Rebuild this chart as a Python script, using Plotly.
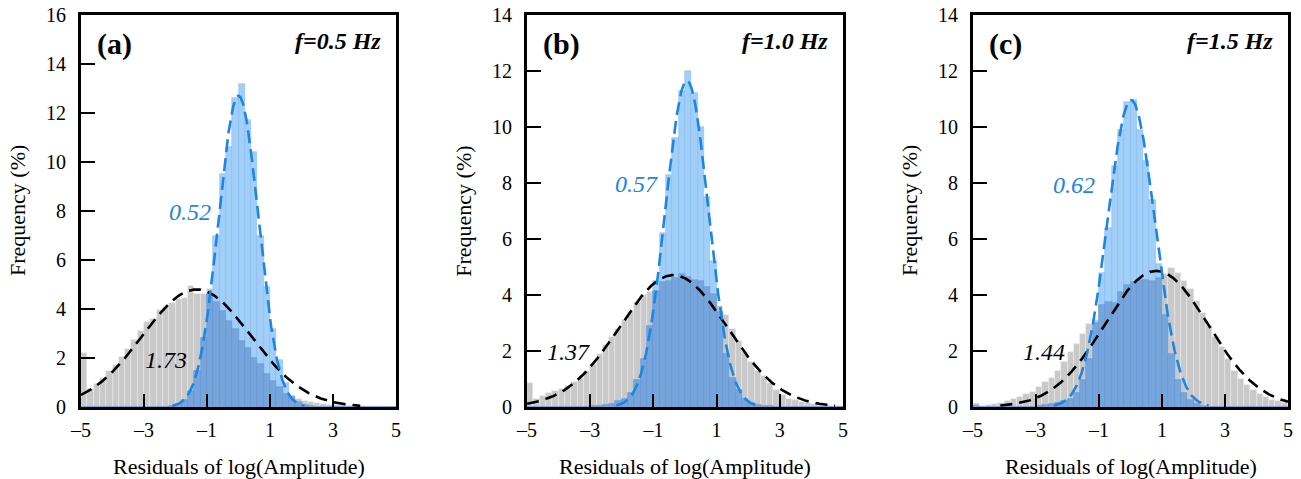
import numpy as np
import plotly.graph_objects as go

# ---------------- data ----------------
# histogram bins: width 0.2 between -5 and 5 (values are bin centres)
bin_width = 0.2
bin_centers = [round(-4.9 + 0.2 * i, 1) for i in range(50)]

# frequency (%) per bin, all data (grey) and corrected data (blue)
gray_a = [2.2, 0.75, 0.95, 1.2, 1.45, 1.7, 2.05, 2.35, 2.75, 3.1,
          3.45, 3.6, 3.95, 4.1, 4.25, 4.4, 4.45, 4.95, 4.6, 4.6,
          4.8, 4.3, 3.9, 3.5, 3.2, 2.7, 2.4, 2.0, 1.75, 1.35,
          1.05, 0.8, 0.55, 0.42, 0.32, 0.25, 0.2, 0.16, 0.13, 0.1,
          0.08, 0.07, 0.05, 0.04, 0.03, 0.02, 0.01, 0.0, 0.0, 0.0]
blue_a = [0, 0, 0, 0, 0, 0, 0, 0, 0, 0,
          0, 0, 0, 0, 0.05, 0.12, 0.3, 0.65, 1.45, 2.8,
          4.6, 7.0, 9.5, 10.6, 12.6, 13.2, 11.7, 10.4, 7.0, 4.9,
          3.2, 1.9, 1.0, 0.45, 0.2, 0.08, 0.03, 0, 0, 0,
          0, 0, 0, 0, 0, 0, 0, 0, 0, 0]

gray_b = [0.85, 0.3, 0.38, 0.5, 0.58, 0.65, 0.75, 0.9, 1.05, 1.3,
          1.55, 1.9, 2.2, 2.5, 2.8, 3.1, 3.4, 3.75, 4.0, 4.1,
          4.15, 4.45, 4.5, 4.6, 4.75, 4.65, 4.55, 4.5, 4.3, 4.05,
          3.6, 3.3, 2.8, 2.35, 1.95, 1.6, 1.3, 1.1, 0.85, 0.6,
          0.42, 0.3, 0.24, 0.18, 0.14, 0.1, 0.08, 0.06, 0.04, 0.03]
blue_b = [0, 0, 0, 0, 0, 0, 0, 0, 0, 0,
          0.02, 0.04, 0.07, 0.12, 0.2, 0.3, 0.5, 0.95, 1.7, 2.9,
          4.5, 6.2, 8.3, 9.6, 11.3, 12.0, 11.2, 10.0, 7.5, 5.2,
          3.4, 1.9, 1.05, 0.6, 0.3, 0.15, 0.08, 0.04, 0.02, 0,
          0, 0, 0, 0, 0, 0, 0, 0, 0, 0]

gray_c = [0.03, 0.05, 0.08, 0.12, 0.15, 0.2, 0.28, 0.35, 0.45, 0.55,
          0.7, 0.9, 1.05, 1.3, 1.6, 1.95, 2.25, 2.6, 2.95, 3.1,
          3.65, 3.75, 3.7, 4.1, 4.35, 4.45, 4.55, 4.55, 4.5, 4.6,
          4.75, 4.95, 4.78, 4.5, 4.2, 3.8, 3.35, 2.9, 2.5, 2.15,
          1.7, 1.3, 1.0, 0.78, 0.6, 0.47, 0.36, 0.26, 0.2, 0.15]
blue_c = [0.1, 0, 0, 0, 0, 0, 0, 0, 0, 0,
          0.05, 0.07, 0.1, 0.15, 0.2, 0.3, 0.5, 0.95, 1.7, 3.0,
          4.8, 6.4, 8.6, 9.9, 10.9, 10.95, 9.9, 8.8, 7.4, 5.1,
          3.3, 1.9, 0.95, 0.5, 0.25, 0.12, 0.05, 0, 0, 0,
          0, 0, 0, 0, 0, 0, 0, 0, 0, 0]

# fitted normal curves: [peak (%), mean, standard deviation]
fit_gray = {"a": [4.8, -1.33, 1.72], "b": [4.71, -0.37, 1.70], "c": [4.86, 0.82, 1.64]}
fit_blue = {"a": [12.7, 0.0, 0.63], "b": [11.65, 0.06, 0.68], "c": [10.96, 0.02, 0.75]}

# labels
panel_tags = ["(a)", "(b)", "(c)"]
freq_labels = ["f=0.5 Hz", "f=1.0 Hz", "f=1.5 Hz"]
sigma_blue = ["0.52", "0.57", "0.62"]
sigma_gray = ["1.73", "1.37", "1.44"]
blue_label_pos = [(-1.54, 7.96), (-1.52, 7.98), (-1.79, 7.93)]
gray_label_pos = [(-2.3, 1.92), (-3.70, 1.98), (-2.76, 1.98)]
y_max = [16, 14, 14]
x_tick_vals = [-5, -3, -1, 1, 3, 5]
x_tick_text = ["\u20135", "\u20133", "\u20131", "1", "3", "5"]

gray_data = [gray_a, gray_b, gray_c]
blue_data = [blue_a, blue_b, blue_c]
keys = ["a", "b", "c"]

# ---------------- style ----------------
W, H = 1301, 479
FONT = "Liberation Serif"
GRAY = "#c9c9c9"
BLUE_LIGHT = "#a2cff8"
BLUE_DARK = "#76a5db"
BLUE_LINE = "#1d85e4"

x_px = [(81, 396), (527, 843), (973, 1288)]
y_px = (15, 407)
y_dom = [1 - y_px[1] / H, 1 - y_px[0] / H]

fig = go.Figure()
xs = np.linspace(-5, 5, 600)


def normal_curve(params):
    peak, mu, sd = params
    y = peak * np.exp(-((xs - mu) ** 2) / (2 * sd ** 2))
    return [v if v > 0.05 else None for v in y]


annotations = []
for k in range(3):
    xa = "x" if k == 0 else f"x{k + 1}"
    ya = "y" if k == 0 else f"y{k + 1}"
    g = np.array(gray_data[k], dtype=float)
    b = np.array(blue_data[k], dtype=float)
    overlap = np.minimum(g, b)

    fig.add_trace(go.Bar(x=bin_centers, y=g, width=bin_width, xaxis=xa, yaxis=ya,
                         marker=dict(color=GRAY, line=dict(color="rgba(235,235,235,0.9)", width=0.6)),
                         showlegend=False, hoverinfo="skip"))
    fig.add_trace(go.Bar(x=bin_centers, y=b, width=bin_width, xaxis=xa, yaxis=ya,
                         marker=dict(color=BLUE_LIGHT, line=dict(color="rgba(120,180,240,0.8)", width=0.6)),
                         showlegend=False, hoverinfo="skip"))
    fig.add_trace(go.Bar(x=bin_centers, y=overlap, width=bin_width, xaxis=xa, yaxis=ya,
                         marker=dict(color=BLUE_DARK, line=dict(color="rgba(95,145,210,0.8)", width=0.6)),
                         showlegend=False, hoverinfo="skip"))
    fig.add_trace(go.Scatter(x=xs, y=normal_curve(fit_gray[keys[k]]), xaxis=xa, yaxis=ya,
                             mode="lines", line=dict(color="black", width=2.6, dash="12px,7px"),
                             showlegend=False, hoverinfo="skip"))
    fig.add_trace(go.Scatter(x=xs, y=normal_curve(fit_blue[keys[k]]), xaxis=xa, yaxis=ya,
                             mode="lines", line=dict(color=BLUE_LINE, width=2.6, dash="13px,6px"),
                             showlegend=False, hoverinfo="skip"))

    x_dom = [x_px[k][0] / W, x_px[k][1] / W]
    axis_common = dict(showline=True, linecolor="black", linewidth=3, mirror=True,
                       ticks="inside", tickcolor="black", tickwidth=2,
                       showgrid=False, zeroline=False,
                       tickfont=dict(family=FONT, size=20, color="black"))
    fig.update_layout(**{
        ("xaxis" if k == 0 else f"xaxis{k + 1}"): dict(
            domain=x_dom, anchor=ya, range=[-5, 5], tickvals=x_tick_vals, ticktext=x_tick_text,
            ticklen=13, ticklabelstandoff=3, **axis_common),
        ("yaxis" if k == 0 else f"yaxis{k + 1}"): dict(
            domain=y_dom, anchor=xa, range=[0, y_max[k]], dtick=2, tick0=0,
            ticklen=14, ticklabelstandoff=8, **axis_common),
    })

    xd = f"{xa} domain"
    yd = f"{ya} domain"
    annotations += [
        dict(text=f"<b>{panel_tags[k]}</b>", xref=xd, yref=yd, x=0.044, y=0.926,
             xanchor="left", yanchor="middle", showarrow=False,
             font=dict(family=FONT, size=30, color="black")),
        dict(text=f"<b><i>{freq_labels[k]}</i></b>", xref=xd, yref=yd, x=0.96, y=0.934,
             xanchor="right", yanchor="middle", showarrow=False,
             font=dict(family=FONT, size=24, color="black")),
        dict(text=f"<i>{sigma_blue[k]}</i>", xref=xa, yref=ya,
             x=blue_label_pos[k][0], y=blue_label_pos[k][1], showarrow=False,
             font=dict(family=FONT, size=24, color=BLUE_LINE)),
        dict(text=f"<i>{sigma_gray[k]}</i>", xref=xa, yref=ya,
             x=gray_label_pos[k][0], y=gray_label_pos[k][1], showarrow=False,
             font=dict(family=FONT, size=24, color="black")),
        dict(text="Residuals of log(Amplitude)", xref=xd, yref="paper", x=0.5, y=1 - 466 / H,
             xanchor="center", yanchor="middle", showarrow=False,
             font=dict(family=FONT, size=22, color="black")),
        dict(text="Frequency (%)", xref=xd, yref=yd, x=-64 / 315, y=0.5, textangle=-90,
             xanchor="center", yanchor="middle", showarrow=False,
             font=dict(family=FONT, size=22, color="black")),
    ]

fig.update_layout(
    width=W, height=H, template="none",
    font=dict(family=FONT, color="black"),
    margin=dict(l=0, r=0, t=0, b=0),
    paper_bgcolor="white", plot_bgcolor="white",
    barmode="overlay", bargap=0,
    showlegend=False,
    annotations=annotations,
)

fig.write_html("out.html")
